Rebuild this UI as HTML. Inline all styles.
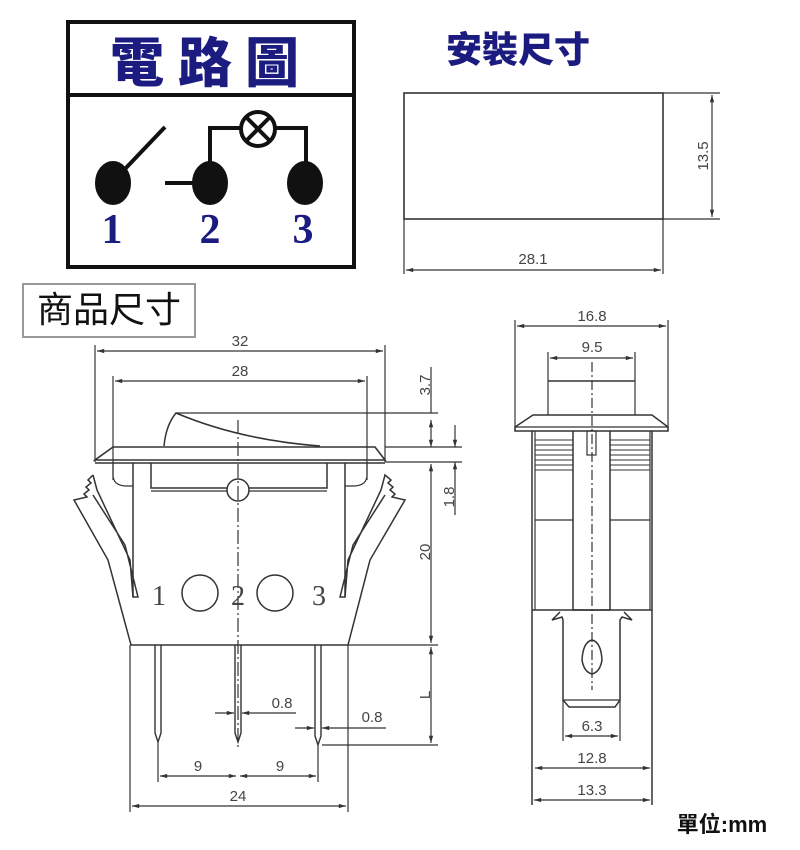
<!DOCTYPE html>
<html><head><meta charset="utf-8"><style>
html,body{margin:0;padding:0;background:#fff}
svg{display:block}
.t{font-family:"Liberation Sans","DejaVu Sans",sans-serif;font-size:15px;fill:#444}
</style></head><body>
<svg width="800" height="850" viewBox="0 0 800 850" xmlns="http://www.w3.org/2000/svg">
<defs>
<marker id="a" viewBox="0 0 10 10" refX="10" refY="5" markerWidth="8" markerHeight="6" orient="auto-start-reverse"><path d="M0,2 L10,5 L0,8z" fill="#333"/></marker>
</defs>
<!-- circuit box -->
<rect x="68" y="22" width="286" height="245" fill="none" stroke="#111" stroke-width="4"/>
<line x1="68" y1="95" x2="354" y2="95" stroke="#111" stroke-width="4"/>
<g font-family="'Noto Sans CJK TC','Noto Sans CJK SC',sans-serif" font-weight="900" font-size="54" fill="#1c1c80" text-anchor="middle">
<text x="137" y="82">電</text><text x="205" y="82">路</text><text x="272" y="82">圖</text></g>
<g fill="#111" stroke="#111" stroke-width="4">
<ellipse cx="113" cy="183" rx="16" ry="20"/>
<ellipse cx="210" cy="183" rx="16" ry="20"/>
<ellipse cx="305" cy="183" rx="16" ry="20"/>
<line x1="124" y1="170" x2="165" y2="127"/>
<line x1="165" y1="183" x2="195" y2="183"/>
<polyline points="210,165 210,128 241,128" fill="none"/>
<polyline points="276,128 306,128 306,165" fill="none"/>
<circle cx="258" cy="129" r="17" fill="#fff"/>
<line x1="246" y1="117" x2="270" y2="141"/><line x1="270" y1="117" x2="246" y2="141"/>
</g>
<g font-family="'Liberation Serif',serif" font-weight="bold" font-size="42" fill="#1c1c80" text-anchor="middle">
<text x="112" y="243">1</text><text x="210" y="243">2</text><text x="303" y="243">3</text></g>
<!-- mount -->
<text x="518" y="62" text-anchor="middle" font-family="'Noto Sans CJK TC',sans-serif" font-weight="900" font-size="36" fill="#1c1c80">安裝尺寸</text>
<g stroke="#333" fill="none" stroke-width="1.2">
<rect x="404" y="93" width="259" height="126" stroke-width="1.6"/>
<line x1="663" y1="93" x2="720" y2="93"/><line x1="663" y1="219" x2="720" y2="219"/>
<line x1="712" y1="95" x2="712" y2="217" marker-start="url(#a)" marker-end="url(#a)"/>
<line x1="404" y1="219" x2="404" y2="274"/><line x1="663" y1="219" x2="663" y2="274"/>
<line x1="406" y1="270" x2="661" y2="270" marker-start="url(#a)" marker-end="url(#a)"/>
</g>
<text class="t" transform="translate(708,156) rotate(-90)" text-anchor="middle">13.5</text>
<text class="t" x="533" y="264" text-anchor="middle">28.1</text>
<!-- product label -->
<rect x="23" y="284" width="172" height="53" fill="#fff" stroke="#999" stroke-width="2"/>
<text x="109" y="322" text-anchor="middle" font-family="'Noto Sans CJK TC',sans-serif" font-size="36" fill="#111">商品尺寸</text>
<!-- front view -->
<g stroke="#333" fill="none" stroke-width="1.2">
<line x1="95" y1="345" x2="95" y2="462"/><line x1="385" y1="345" x2="385" y2="462"/>
<line x1="97" y1="351" x2="383" y2="351" marker-start="url(#a)" marker-end="url(#a)"/>
<line x1="113" y1="376" x2="113" y2="480"/><line x1="367" y1="376" x2="367" y2="480"/>
<line x1="115" y1="381" x2="365" y2="381" marker-start="url(#a)" marker-end="url(#a)"/>
<path d="M113,447 L375,447 L385,460 L95,460 Z" stroke-width="1.6"/>
<line x1="95" y1="463" x2="385" y2="463" stroke-width="1.6"/>
<path d="M164,446 Q166,425 176,413 Q240,440 320,446" stroke-width="1.5"/>
<line x1="176" y1="413" x2="438" y2="413"/>
<line x1="385" y1="447" x2="462" y2="447"/><line x1="385" y1="462" x2="462" y2="462"/>
<line x1="431" y1="367" x2="431" y2="413"/>
<line x1="431" y1="420" x2="431" y2="447" marker-start="url(#a)" marker-end="url(#a)"/>
<line x1="455" y1="425" x2="455" y2="447" marker-end="url(#a)"/>
<line x1="455" y1="462" x2="455" y2="515" marker-start="url(#a)"/>
<line x1="431" y1="464" x2="431" y2="643" marker-start="url(#a)" marker-end="url(#a)"/>
<line x1="348" y1="645" x2="438" y2="645"/>
<line x1="431" y1="647" x2="431" y2="743" marker-start="url(#a)" marker-end="url(#a)"/>
<line x1="322" y1="745" x2="438" y2="745"/>
<path d="M113,463 L113,475 Q113,485 125,486 L133,486 M367,463 L367,475 Q367,485 355,486 L345,486" />
<line x1="133" y1="463" x2="133" y2="597" stroke-width="1.5"/><line x1="345" y1="463" x2="345" y2="597" stroke-width="1.5"/>
<path d="M151,463 L151,488 L327,488 L327,463" stroke-width="1.5"/>
<line x1="151" y1="491" x2="327" y2="491"/>
<circle cx="238" cy="490" r="11" fill="#fff" stroke-width="1.5"/>
<path d="M93,475 L88,480 L91,483 L86,487 L89,490 L84,494 L87,497 L74,500 L108,560 L131,645 L348,645 L370,560 L405,500 L392,497 L395,494 L390,490 L393,487 L388,483 L391,480 L385,475 L381,490 L348,560 L345,597 L340,597 L353,545 L385,495 M93,475 L97,490 L130,560 L133,597 L138,597 L125,545 L93,495" stroke-width="1.5"/>
<circle cx="200" cy="593" r="18" stroke-width="1.5"/><circle cx="275" cy="593" r="18" stroke-width="1.5"/>
<line x1="238" y1="420" x2="238" y2="750" stroke-dasharray="14,3,2,3"/>
<g stroke-width="1.4">
<path d="M155,645 L155,733 L158,742 L161,733 L161,645"/>
<path d="M235,645 L235,733 L238,742 L241,733 L241,645"/>
<path d="M315,645 L315,736 L318,745 L321,736 L321,645"/>
</g>
<line x1="158" y1="742" x2="158" y2="782"/><line x1="318" y1="745" x2="318" y2="782"/>
<line x1="130" y1="645" x2="130" y2="812"/><line x1="348" y1="645" x2="348" y2="812"/>
<line x1="160" y1="776" x2="236" y2="776" marker-start="url(#a)" marker-end="url(#a)"/>
<line x1="240" y1="776" x2="316" y2="776" marker-start="url(#a)" marker-end="url(#a)"/>
<line x1="132" y1="806" x2="346" y2="806" marker-start="url(#a)" marker-end="url(#a)"/>
<line x1="215" y1="713" x2="234" y2="713" marker-end="url(#a)"/><line x1="296" y1="713" x2="242" y2="713" marker-end="url(#a)"/>
<line x1="295" y1="728" x2="314" y2="728" marker-end="url(#a)"/><line x1="386" y1="728" x2="322" y2="728" marker-end="url(#a)"/>
</g>
<g class="t" text-anchor="middle">
<text x="240" y="346">32</text><text x="240" y="376">28</text>
<text x="282" y="708">0.8</text><text x="372" y="722">0.8</text>
<text x="198" y="771">9</text><text x="280" y="771">9</text><text x="238" y="801">24</text>
<text transform="translate(430,385) rotate(-90)">3.7</text>
<text transform="translate(454,497) rotate(-90)">1.8</text>
<text transform="translate(430,552) rotate(-90)">20</text>
<text transform="translate(430,695) rotate(-90)">L</text>
</g>
<g font-family="'Liberation Serif',serif" font-size="28" fill="#444" text-anchor="middle">
<text x="159" y="605">1</text><text x="238" y="605">2</text><text x="319" y="605">3</text></g>
<!-- side view -->
<g stroke="#333" fill="none" stroke-width="1.2">
<line x1="515" y1="320" x2="515" y2="430"/><line x1="668" y1="320" x2="668" y2="430"/>
<line x1="517" y1="326" x2="666" y2="326" marker-start="url(#a)" marker-end="url(#a)"/>
<line x1="548" y1="352" x2="548" y2="415"/><line x1="635" y1="352" x2="635" y2="415"/>
<line x1="550" y1="358" x2="633" y2="358" marker-start="url(#a)" marker-end="url(#a)"/>
<line x1="548" y1="381" x2="635" y2="381" stroke-width="1.5"/>
<path d="M533,415 L652,415 L668,427 L668,431 L515,431 L515,427 Z" stroke-width="1.5"/>
<line x1="515" y1="427" x2="668" y2="427"/>
<line x1="532" y1="431" x2="532" y2="805" stroke-width="1.5"/><line x1="652" y1="431" x2="652" y2="805" stroke-width="1.5"/>
<line x1="535" y1="431" x2="535" y2="610"/><line x1="650" y1="431" x2="650" y2="610"/>
<path d="M573,431 L573,610 L610,610 L610,431" stroke-width="1.5"/>
<rect x="587" y="431" width="9" height="24"/>
<g stroke-width="1">
<path d="M535,440 H573 M535,445 H573 M535,450 H573 M535,455 H573 M535,460 H573 M535,465 H573 M535,470 H573"/>
<path d="M610,440 H650 M610,445 H650 M610,450 H650 M610,455 H650 M610,460 H650 M610,465 H650 M610,470 H650"/>
</g>
<line x1="535" y1="520" x2="573" y2="520"/><line x1="610" y1="520" x2="650" y2="520"/>
<line x1="532" y1="610" x2="652" y2="610" stroke-width="1.5"/>
<path d="M560,612 L552,620 L562,617 L563,620 L563,700 L569,707 L615,707 L620,700 L620,620 L622,617 L632,620 L624,612" stroke-width="1.5"/>
<line x1="563" y1="700" x2="620" y2="700"/>
<path d="M592,640 Q601,642 602,660 Q600,672 592,674 Q584,672 582,660 Q583,642 592,640 Z" stroke-width="1.5"/>
<line x1="592" y1="362" x2="592" y2="690" stroke-dasharray="10,3,2,3"/>
<line x1="563" y1="700" x2="563" y2="741"/><line x1="620" y1="700" x2="620" y2="741"/>
<line x1="565" y1="736" x2="618" y2="736" marker-start="url(#a)" marker-end="url(#a)"/>
<line x1="535" y1="768" x2="650" y2="768" marker-start="url(#a)" marker-end="url(#a)"/>
<line x1="534" y1="800" x2="650" y2="800" marker-start="url(#a)" marker-end="url(#a)"/>
</g>
<g class="t" text-anchor="middle">
<text x="592" y="321">16.8</text><text x="592" y="352">9.5</text>
<text x="592" y="731">6.3</text><text x="592" y="763">12.8</text><text x="592" y="795">13.3</text>
</g>
<text x="722" y="832" text-anchor="middle" font-family="'Liberation Sans','Noto Sans CJK TC',sans-serif" font-weight="bold" font-size="22" fill="#111">單位:mm</text>
</svg>
</body></html>
